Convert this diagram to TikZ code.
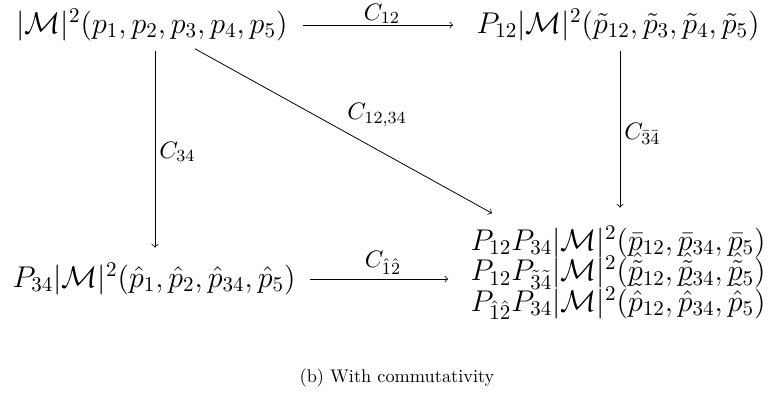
\RequirePackage{fix-cm}
\documentclass[tikz,border=0pt]{standalone}
\usepackage{amsmath}
\usepackage{graphicx}
\newcommand{\tightlines}{\lineskiplimit=-20pt\relax\lineskip=0pt\relax}
\newcommand{\objfont}{\fontsize{15}{15.2}\selectfont\tightlines}
\begin{document}
\begin{tikzpicture}[x=0.5pt,y=-0.5pt,
  obj/.style={inner sep=2pt, font=\objfont},
  arr/.style={->, line width=0.4pt},
  lbl/.style={inner sep=2pt, font=\fontsize{17}{19}\selectfont}]
\useasboundingbox (0,0) rectangle (769,403);
\node[obj] (A) at (152,25) {$|\mathcal{M}|^2(p_1,p_2,p_3,p_4,p_5)$};
\node[obj] (B) at (618,25) {$P_{12}|\mathcal{M}|^2(\tilde p_{12},\tilde p_3,\tilde p_4,\tilde p_5)$};
\node[obj] (C) at (154,279) {$P_{34}|\mathcal{M}|^2(\hat p_1,\hat p_2,\hat p_{34},\hat p_5)$};
\node[obj, align=center] (D) at (618,273) {$P_{12}P_{34}|\mathcal{M}|^2(\bar p_{12},\bar p_{34},\bar p_5)$\\
$P_{12}P_{\tilde 3\tilde 4}|\mathcal{M}|^2(\hat{\tilde p}_{12},\hat{\tilde p}_{34},\hat{\tilde p}_5)$\\
$P_{\hat 1\hat 2}P_{34}|\mathcal{M}|^2(\tilde{\hat p}_{12},\tilde{\hat p}_{34},\tilde{\hat p}_5)$};
\node (cap) at (397,378) {\scalebox{0.915}{(b) With commutativity}};
\draw[arr, shorten <=5.5pt, shorten >=9.5pt] (A) -- node[above, lbl, inner sep=0.5pt] {$\scriptstyle C_{12}$} (B);
\draw[arr, shorten <=3pt, shorten >=5.5pt] (A.south -| 155,0) -- node[right, lbl] {$\scriptstyle C_{34}$} (C.north -| 155,0);
\draw[arr, shorten <=24.6pt, shorten >=72pt] (A.center) -- node[pos=0.41, anchor=south west, lbl] {$\scriptstyle C_{12,34}$} ([yshift=-5pt]D.center);
\draw[arr, shorten <=3pt, shorten >=7pt] (B.south -| 620,0) -- node[right, lbl] {$\scriptstyle C_{\bar 3\bar 4}$} (D.north -| 620,0);
\draw[arr, shorten <=5pt, shorten >=9pt] (C) -- node[above, lbl] {$\scriptstyle C_{\hat 1\hat 2}$} (D.west |- C);
\end{tikzpicture}
\end{document}
